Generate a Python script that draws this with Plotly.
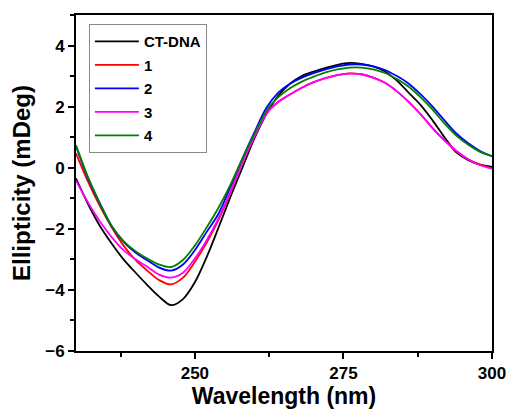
import plotly.graph_objects as go

wavelength = [230, 232, 234, 236, 238, 240, 242, 244, 246, 248, 250, 252, 254, 256, 258,
              260, 262, 264, 266, 268, 270, 272, 274, 276, 278, 280, 282, 284, 286, 288,
              290, 292, 294, 296, 298, 300]

ct_dna = [-0.35, -1.18, -1.90, -2.48, -3.00, -3.43, -3.84, -4.22, -4.50, -4.30, -3.75, -2.92,
          -1.95, -0.95, 0.00, 0.95, 1.75, 2.35, 2.75, 3.00, 3.15, 3.27, 3.37, 3.43, 3.40,
          3.32, 3.15, 2.85, 2.45, 2.05, 1.55, 1.00, 0.50, 0.25, 0.10, 0.03]

c1 = [0.47, -0.45, -1.25, -1.95, -2.55, -3.02, -3.37, -3.68, -3.82, -3.60, -3.08, -2.45,
      -1.70, -0.80, 0.20, 1.05, 1.80, 2.15, 2.40, 2.62, 2.80, 2.93, 3.03, 3.09, 3.06,
      2.95, 2.78, 2.50, 2.15, 1.75, 1.30, 0.90, 0.55, 0.28, 0.10, -0.02]

c2 = [0.70, -0.33, -1.17, -1.92, -2.43, -2.78, -3.03, -3.27, -3.37, -3.17, -2.70, -2.10,
      -1.50, -0.62, 0.30, 1.15, 1.95, 2.45, 2.75, 2.95, 3.10, 3.22, 3.32, 3.38, 3.38,
      3.32, 3.20, 3.00, 2.75, 2.40, 2.00, 1.55, 1.12, 0.80, 0.55, 0.38]

c3 = [-0.42, -1.13, -1.75, -2.27, -2.70, -3.00, -3.24, -3.50, -3.60, -3.44, -2.97, -2.37,
      -1.65, -0.80, 0.15, 1.00, 1.75, 2.15, 2.40, 2.62, 2.80, 2.93, 3.03, 3.08, 3.06,
      2.95, 2.78, 2.50, 2.15, 1.75, 1.30, 0.90, 0.55, 0.27, 0.08, -0.03]

c4 = [0.74, -0.30, -1.15, -1.90, -2.40, -2.73, -2.97, -3.17, -3.25, -3.02, -2.55, -1.95,
      -1.30, -0.55, 0.30, 1.10, 1.85, 2.30, 2.60, 2.82, 2.98, 3.12, 3.22, 3.28, 3.28,
      3.22, 3.10, 2.90, 2.65, 2.30, 1.90, 1.45, 1.05, 0.75, 0.52, 0.38]

series_names = ["CT-DNA", "1", "2", "3", "4"]
series_values = [ct_dna, c1, c2, c3, c4]
series_colors = ["#000000", "#ff0000", "#0000ff", "#ff00ff", "#008000"]

FONT = "Arial, Liberation Sans, sans-serif"

fig = go.Figure()
for name, vals, col in zip(series_names, series_values, series_colors):
    fig.add_trace(go.Scatter(
        x=wavelength, y=vals, name=name, mode="lines",
        line=dict(color=col, width=1.8, shape="spline", smoothing=0.9),
        legendgroup=name,
    ))

fig.update_layout(
    width=508, height=409,
    margin=dict(l=76, r=16, t=15, b=58, autoexpand=False),
    paper_bgcolor="white", plot_bgcolor="white",
    font=dict(family=FONT, color="black"),
    showlegend=True,
    legend=dict(
        x=0.031, y=0.973, xanchor="left", yanchor="top",
        bordercolor="#888888", borderwidth=1, bgcolor="white",
        font=dict(family=FONT, size=15, color="black", weight="bold"),
        traceorder="grouped", tracegroupgap=1,
        itemwidth=44,
    ),
)

fig.update_xaxes(
    range=[230, 300], tick0=250, dtick=25, automargin=False,
    showgrid=False, zeroline=False,
    showline=True, linecolor="black", linewidth=2, mirror=True,
    ticks="outside", ticklen=6, tickwidth=2, tickcolor="black",
    minor=dict(dtick=12.5, tick0=250, ticks="outside", ticklen=4, tickwidth=2, tickcolor="black"),
    tickfont=dict(family=FONT, size=17, color="black", weight="bold"),
    title=dict(text="Wavelength (nm)", font=dict(family=FONT, size=23, color="black", weight="bold"),
               standoff=6),
)
fig.update_yaxes(
    range=[-6, 5], tick0=0, dtick=2, automargin=False,
    showgrid=False, zeroline=False,
    showline=True, linecolor="black", linewidth=2, mirror=True,
    ticks="outside", ticklen=6, tickwidth=2, tickcolor="black",
    minor=dict(dtick=1, tick0=0, ticks="outside", ticklen=4, tickwidth=2, tickcolor="black"),
    tickfont=dict(family=FONT, size=17, color="black", weight="bold"),
    title=dict(text="Ellipticity (mDeg)", font=dict(family=FONT, size=24, color="black", weight="bold"),
               standoff=8),
)

fig.write_html(
    "out.html",
    config={"displayModeBar": False},
    post_script="document.body.style.margin='0';document.body.style.overflow='hidden';",
)
